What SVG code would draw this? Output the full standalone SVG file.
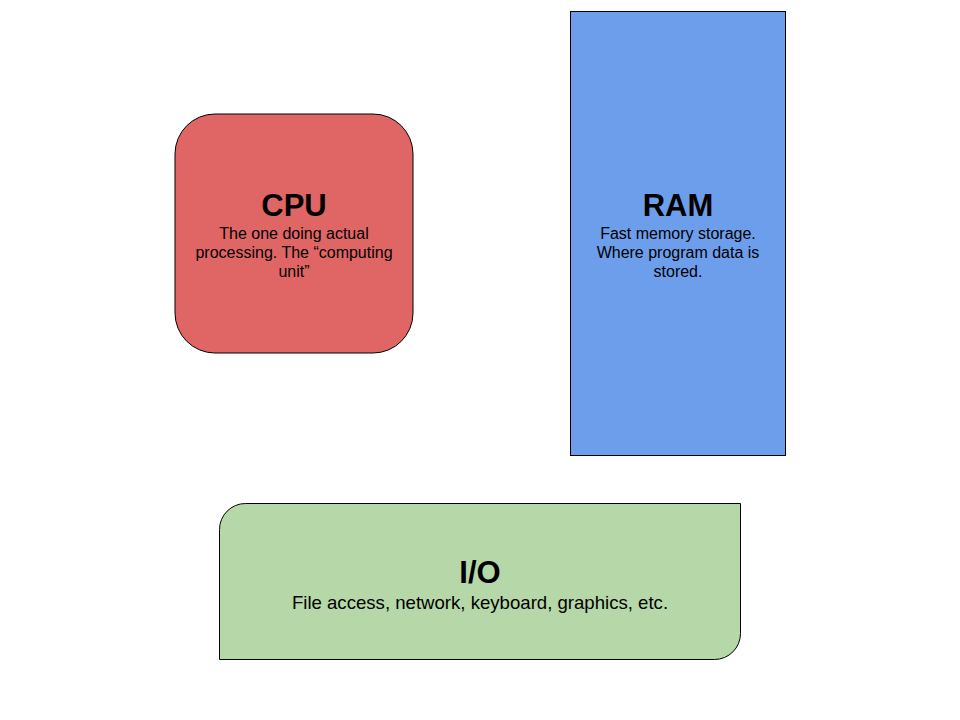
<svg xmlns="http://www.w3.org/2000/svg" width="960" height="720" viewBox="0 0 960 720">
<style>
.box{stroke:#000;stroke-width:1}
.t{font-family:"Liberation Sans",Arial,sans-serif;font-weight:bold;font-size:31px;text-anchor:middle;fill:#000}
.b{font-family:"Liberation Sans",Arial,sans-serif;font-size:16px;text-anchor:middle;fill:#000}
.bl{font-family:"Liberation Sans",Arial,sans-serif;font-size:18.6px;text-anchor:middle;fill:#000}
</style>
<rect width="960" height="720" fill="#fff"/>
<g id="cpu">
<rect class="box" x="175" y="114" width="238" height="239" rx="40" ry="40" fill="#e06666"/>
<text class="t" x="294" y="216">CPU</text>
<text class="b" x="294" y="239">The one doing actual</text>
<text class="b" x="294" y="258">processing. The “computing</text>
<text class="b" x="294" y="277">unit”</text>
</g>
<g id="ram">
<rect class="box" x="570.5" y="11.5" width="215" height="444" fill="#6d9eeb"/>
<text class="t" x="678" y="216">RAM</text>
<text class="b" x="678" y="239">Fast memory storage.</text>
<text class="b" x="678" y="258">Where program data is</text>
<text class="b" x="678" y="277">stored.</text>
</g>
<g id="io">
<path class="box" d="M219.5,659.5 V529.5 A26,26 0 0 1 245.5,503.5 H740.5 V633.5 A26,26 0 0 1 714.5,659.5 Z" fill="#b6d7a8"/>
<text class="t" x="480" y="583">I/O</text>
<text class="bl" x="480" y="609">File access, network, keyboard, graphics, etc.</text>
</g>
<g id="connectors"/>
</svg>
